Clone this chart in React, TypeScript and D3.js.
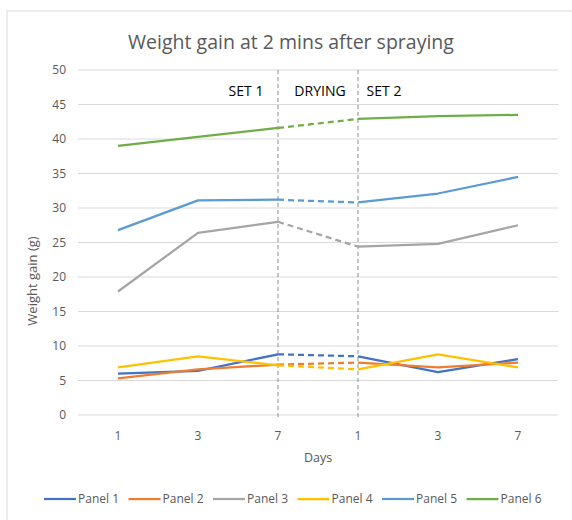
import React from "react";
import * as d3 from "d3";

const categories = ["1", "3", "7", "1", "3", "7"];
const seriesNames = ["Panel 1", "Panel 2", "Panel 3", "Panel 4", "Panel 5", "Panel 6"];
const panel1 = [6.0, 6.4, 8.8, 8.5, 6.2, 8.1];
const panel2 = [5.3, 6.6, 7.3, 7.6, 6.9, 7.6];
const panel3 = [17.9, 26.4, 28.0, 24.4, 24.8, 27.5];
const panel4 = [6.9, 8.5, 7.2, 6.6, 8.8, 6.9];
const panel5 = [26.8, 31.1, 31.2, 30.8, 32.1, 34.5];
const panel6 = [39.0, 40.3, 41.6, 42.9, 43.3, 43.5];
const yTicks = [0, 5, 10, 15, 20, 25, 30, 35, 40, 45, 50];
const colors = ["#4472C4", "#ED7D31", "#A5A5A5", "#FFC000", "#5B9BD5", "#70AD47"];
const dashedSegment = [2, 3]; // drying period (index range)
const phaseLabels = ["SET 1", "DRYING", "SET 2"];

const W = 572;
const H = 520;
const FONT = "'Open Sans', 'Liberation Sans', sans-serif";

export default function App() {
  const series = [panel1, panel2, panel3, panel4, panel5, panel6];
  const x = d3
    .scaleBand<number>()
    .domain(categories.map((_, i) => i))
    .range([78, 558]);
  const cx = (i: number) => (x(i) as number) + x.bandwidth() / 2;
  const y = d3.scaleLinear().domain([0, 50]).range([415, 70]);

  const lineGen = d3
    .line<[number, number]>()
    .x((d) => cx(d[0]))
    .y((d) => y(d[1]));

  const [ds, de] = dashedSegment;

  return (
    <svg
      width={W}
      height={H}
      style={{ position: "fixed", left: 0, top: 0, background: "#fff" }}
      fontFamily={FONT}
    >
      <rect x={7} y={11} width={W} height={H} fill="#fff" stroke="#D9D9D9" strokeWidth={1} />
      <text x={291} y={49} textAnchor="middle" fontSize={19.5} fill="#595959">
        Weight gain at 2 mins after spraying
      </text>
      {/* gridlines */}
      {yTicks.map((t) => (
        <g key={t}>
          <line x1={78} x2={558} y1={y(t)} y2={y(t)} stroke="#D9D9D9" strokeWidth={1} />
          <text x={66} y={y(t) + 4} textAnchor="end" fontSize={12} fill="#595959">
            {t}
          </text>
        </g>
      ))}
      {/* x tick labels */}
      {categories.map((c, i) => (
        <text key={i} x={cx(i)} y={440} textAnchor="middle" fontSize={12} fill="#595959">
          {c}
        </text>
      ))}
      <text x={318} y={462} textAnchor="middle" fontSize={12.5} fill="#595959">
        Days
      </text>
      <text
        transform={`translate(37,281) rotate(-90)`}
        textAnchor="middle"
        fontSize={13}
        fill="#595959"
      >
        Weight gain (g)
      </text>
      {/* phase separators */}
      {[ds, de].map((i) => (
        <line
          key={i}
          x1={cx(i)}
          x2={cx(i)}
          y1={y(50)}
          y2={y(0) + 3}
          stroke="#8C8C8C"
          strokeWidth={1}
          strokeDasharray="4,3"
        />
      ))}
      <text x={246} y={96} textAnchor="middle" fontSize={14} fill="#000">
        {phaseLabels[0]}
      </text>
      <text x={320} y={96} textAnchor="middle" fontSize={14} fill="#000">
        {phaseLabels[1]}
      </text>
      <text x={384} y={96} textAnchor="middle" fontSize={14} fill="#000">
        {phaseLabels[2]}
      </text>
      {/* series */}
      {series.map((vals, si) => {
        const pts: [number, number][] = vals.map((v, i) => [i, v]);
        const before = pts.slice(0, ds + 1);
        const mid = pts.slice(ds, de + 1);
        const after = pts.slice(de);
        return (
          <g key={si} fill="none" stroke={colors[si]} strokeWidth={2.25} strokeLinejoin="round">
            <path d={lineGen(before) || ""} />
            <path d={lineGen(mid) || ""} strokeDasharray="6,4" />
            <path d={lineGen(after) || ""} />
          </g>
        );
      })}
      {/* legend */}
      {seriesNames.map((n, i) => {
        const lx = 44 + i * 84.5;
        return (
          <g key={n}>
            <line x1={lx} x2={lx + 32} y1={499} y2={499} stroke={colors[i]} strokeWidth={2.25} />
            <text x={lx + 34} y={503} fontSize={12} fill="#595959">
              {n}
            </text>
          </g>
        );
      })}
    </svg>
  );
}
